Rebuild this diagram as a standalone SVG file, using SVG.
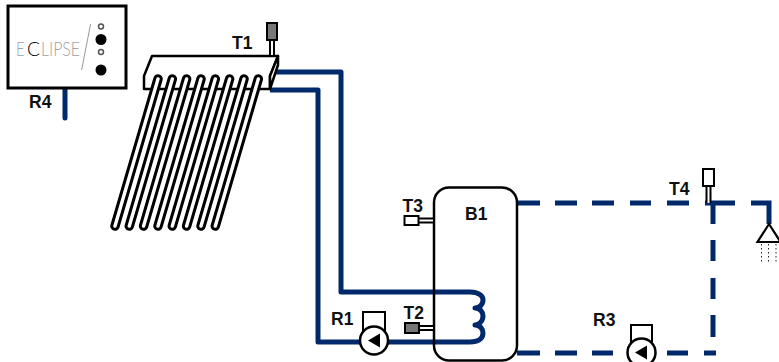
<svg xmlns="http://www.w3.org/2000/svg" width="779" height="362" viewBox="0 0 779 362">
<style>
text{font-family:"Liberation Sans",Arial,sans-serif}
.lbl{font-size:17.500px;font-weight:700;fill:#111}
.logo{font-size:20px;fill:#a0a0a0;font-family:"Lato","Liberation Sans",sans-serif;font-weight:300}
.pipe{fill:none;stroke:#00296b;stroke-width:5;stroke-linejoin:round}
.dash{fill:none;stroke:#00296b;stroke-width:5}
.ol{fill:#fff;stroke:#000;stroke-width:2.500;stroke-linejoin:round}
.tb{fill:none;stroke:#000;stroke-width:9.500;stroke-linecap:round}
.ti{fill:none;stroke:#fff;stroke-width:3.400;stroke-linecap:round}
.st{fill:none;stroke:#000;stroke-width:6}
.si{fill:none;stroke:#fff;stroke-width:2}
</style>
<g id="connectors">
<path class="pipe" d="M272,72H341V292H470C479,292 483,296 483,300C483,305 479,308 475,308C480,308 483,312 483,316C483,321 479,325 475,325C480,325 483,329 483,333C483,339 478,342 470,342H318V90H270"/>
<path class="pipe" stroke-linecap="round" d="M65,88V118"/>
<path class="dash" d="M517,203H540M555,203H577M592,203H614M630,203H651M667,203H689M705,203H735M751,203H769V224M713,203V224M713,240V261M713,278V299M713,315V337M517,353H540M555,353H577M592,353H613M667,353H688M704,353H716"/>
</g>
<g id="controller">
<rect x="8" y="6" width="118" height="82" fill="#fff" stroke="#000" stroke-width="3"/>
<text class="logo" x="16" y="56" textLength="8.500" lengthAdjust="spacingAndGlyphs">E</text>
<text class="logo" x="27" y="56" style="fill:#000" textLength="13" lengthAdjust="spacingAndGlyphs">C</text>
<text class="logo" x="41" y="56" textLength="39" lengthAdjust="spacingAndGlyphs">LIPSE</text>
<line x1="90.600" y1="24" x2="81.600" y2="70" stroke="#999" stroke-width="1"/>
<circle cx="101" cy="26.500" r="2.500" fill="#fff" stroke="#555" stroke-width="1.500"/>
<circle cx="101" cy="39.500" r="5.500" fill="#000"/>
<circle cx="101" cy="52" r="2.500" fill="#fff" stroke="#555" stroke-width="1.500"/>
<circle cx="101" cy="70" r="5.500" fill="#000"/>
<text class="lbl" x="29" y="108">R4</text>
</g>
<g id="collector">
<path class="ol" d="M144,76L152,56H278L270,76V89H144Z"/>
<path class="ol" d="M270,76L278,56V65L270,89Z"/>
<path class="tb" d="M158,79L115,226M172.300,79L129.300,226M186.600,79L143.600,226M201,79L158,226M215.300,79L172.300,226M229.600,79L186.600,226M244,79L201,226M258.300,79L215.300,226"/>
<path class="ti" d="M158,79L115,226M172.300,79L129.300,226M186.600,79L143.600,226M201,79L158,226M215.300,79L172.300,226M229.600,79L186.600,226M244,79L201,226M258.300,79L215.300,226"/>
</g>
<g id="T1">
<path class="st" d="M272,40V56"/><path class="si" d="M272,40V55"/>
<rect x="267" y="23" width="10" height="17" fill="#777" stroke="#000" stroke-width="2"/>
<text class="lbl" x="232" y="48.500">T1</text>
</g>
<g id="B1">
<rect x="434" y="187.500" width="83" height="173" rx="15" fill="none" stroke="#000" stroke-width="2.500"/>
<text class="lbl" x="465" y="220">B1</text>
</g>
<g id="T3">
<path class="st" d="M418,220.500H434"/><path class="si" d="M418,220.500H433"/>
<rect x="404.500" y="216" width="14" height="9" fill="#fff" stroke="#000" stroke-width="2"/>
<text class="lbl" x="402.500" y="211.500">T3</text>
</g>
<g id="T2">
<path class="st" d="M419,328H434"/><path class="si" d="M419,328H433"/>
<rect x="405" y="323" width="14" height="10" fill="#777" stroke="#000" stroke-width="2"/>
<text class="lbl" x="403.500" y="319">T2</text>
</g>
<g id="R1">
<rect x="363" y="312" width="22" height="20" fill="#fff" stroke="#000" stroke-width="2"/>
<circle cx="374" cy="340.500" r="14" fill="#fff" stroke="#000" stroke-width="2.500"/>
<path d="M368,340.500L380,333.500V347.500Z" fill="#000"/>
<text class="lbl" x="331" y="324.500">R1</text>
</g>
<g id="R3">
<rect x="631" y="325" width="21" height="18" fill="#fff" stroke="#000" stroke-width="2"/>
<circle cx="641.500" cy="352.500" r="14" fill="#fff" stroke="#000" stroke-width="2.500"/>
<path d="M635,352.500L647,345.500V359.500Z" fill="#000"/>
<text class="lbl" x="593" y="326">R3</text>
</g>
<g id="T4">
<path class="st" d="M708.500,186V203"/><path class="si" d="M708.500,186V203"/>
<rect x="703" y="169" width="11" height="17" fill="#fff" stroke="#000" stroke-width="2"/>
<text class="lbl" x="669" y="194.500">T4</text>
</g>
<g id="shower">
<path d="M769,224L757.500,242H780.500Z" fill="#fff" stroke="#000" stroke-width="2.200"/>
<path d="M761.500,244V263M768.500,244V263M776,244V263" fill="none" stroke="#222" stroke-width="1" stroke-dasharray="1.500 2.500"/>
</g>
</svg>
